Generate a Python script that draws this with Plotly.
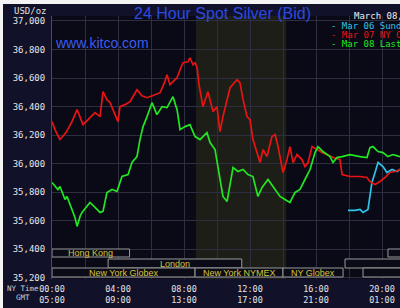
import plotly.graph_objects as go

# ---- data (hours since 00:00 NY time, price USD/oz) ----
red_t = [0.0, 0.18, 0.48, 0.85, 1.21, 1.52, 1.88, 2.18, 2.61, 2.91, 3.09, 3.33, 3.52, 3.82, 4.0,
         4.12, 4.42, 4.73, 5.15, 5.45, 5.76, 6.24, 6.55, 6.79, 6.97, 7.15, 7.58, 7.76, 7.94, 8.24,
         8.36, 8.55, 8.67, 8.79, 8.91, 9.15, 9.45, 9.76, 10.0, 10.18, 10.36, 10.79, 10.97, 11.21,
         11.39, 11.58, 11.82, 12.0, 12.18, 12.42, 12.61, 12.79, 13.03, 13.33, 13.52, 13.7, 14.0,
         14.24, 14.42, 14.61, 14.85, 15.15, 15.33, 15.52, 15.76, 16.06, 16.36, 16.67, 17.03, 17.45,
         17.58, 18.06, 18.67, 19.09, 19.27, 19.58, 19.88, 20.18, 20.48, 20.79, 21.09, 21.4]
red_p = [36294, 36238, 36168, 36217, 36294, 36378, 36273, 36308, 36357, 36329, 36504, 36448, 36427,
         36343, 36294, 36399, 36413, 36434, 36518, 36476, 36462, 36483, 36497, 36560, 36623, 36553,
         36602, 36658, 36707, 36714, 36742, 36693, 36707, 36672, 36553, 36399, 36504, 36364, 36399,
         36224, 36329, 36532, 36553, 36588, 36567, 36448, 36329, 36308, 36168, 36077, 36007, 36098,
         36049, 36189, 36203, 36119, 35937, 36028, 36119, 36007, 36063, 36028, 35979, 36007, 36119,
         36098, 36077, 36063, 36042, 36028, 35923, 35909, 35909, 35902, 35874, 35853, 35874, 35902,
         35937, 35944, 35958, 35965]

green_t = [0.0, 0.36, 0.48, 0.79, 0.91, 1.21, 1.39, 1.52, 1.70, 1.82, 2.12, 2.30, 2.61, 2.91, 3.09,
           3.33, 3.64, 3.94, 4.24, 4.61, 4.85, 5.15, 5.33, 5.52, 5.76, 6.06, 6.36, 6.67, 6.97, 7.33,
           7.58, 7.76, 8.06, 8.36, 8.67, 8.97, 9.39, 9.58, 9.88, 10.06, 10.36, 10.61, 10.79, 10.97,
           11.27, 11.58, 11.88, 12.18, 12.48, 12.73, 13.09, 13.39, 13.82, 14.12, 14.42, 14.73, 15.03,
           15.33, 15.64, 15.94, 16.12, 16.42, 16.85, 17.03, 17.27, 17.58, 18.06, 18.67, 19.09, 19.27,
           19.45, 19.76, 20.06, 20.36, 20.67, 21.09, 21.4]
green_p = [35867, 35818, 35839, 35748, 35769, 35678, 35622, 35559, 35629, 35657, 35699, 35727, 35692,
           35657, 35664, 35797, 35818, 35804, 35909, 35923, 36007, 36049, 36168, 36259, 36329, 36427,
           36343, 36399, 36392, 36469, 36378, 36238, 36259, 36273, 36189, 36168, 36217, 36147, 36098,
           35979, 35769, 35734, 35867, 35972, 35944, 35958, 35923, 35909, 35769, 35832, 35888, 35839,
           35769, 35748, 35727, 35797, 35818, 35888, 35958, 36077, 36119, 36084, 36049, 36007, 36042,
           36049, 36063, 36049, 36042, 36112, 36119, 36084, 36077, 36049, 36063, 36049, 36056]

cyan_t = [17.94, 18.36, 18.67, 18.85, 19.15, 19.27, 19.39, 19.58, 19.76, 20.06, 20.30, 20.61, 20.91, 21.09, 21.4]
cyan_p = [35671, 35671, 35678, 35657, 35678, 35769, 35867, 35937, 36007, 35979, 35937, 35958, 35944, 35958, 35951]

tick_hours = [0, 4, 8, 12, 16, 20]
tick_ny = ["00:00", "04:00", "08:00", "12:00", "16:00", "20:00"]
tick_gmt = ["05:00", "09:00", "13:00", "17:00", "21:00", "01:00"]
price_ticks = [35200, 35400, 35600, 35800, 36000, 36200, 36400, 36600, 36800, 37000]

legend_names = ["Mar 06 Sunday Close", "Mar 07 NY Close", "Mar 08 Last 24 Hours"]
legend_colors = ["#2ec4ea", "#e81414", "#22e622"]

# session bars: (label, start hour, end hour, row)
sessions = [
    ("Hong Kong", 0.0, 4.7, 0),
    ("London", 3.4, 11.5, 1),
    ("New York Globex", 0.0, 8.67, 2),
    ("New York NYMEX", 8.67, 14.0, 2),
    ("NY Globex", 14.0, 17.64, 2),
    ("", 17.76, 24.0, 1),
    ("New York Globex", 18.85, 24.0, 2),
    ("", 20.36, 24.0, 0),
]
nymex_open, nymex_close = 8.72, 14.2

# ---- figure geometry ----
W, H = 400, 308
ML, MR, MT, MB = 52, 0, 16, 29
PW, PH = W - ML - MR, H - MT - MB


def px(xp):
    return (xp - ML) / PW


def py(yp):
    return (H - MB - yp) / PH


fig = go.Figure()
for t, p, c, n in [(cyan_t, cyan_p, legend_colors[0], legend_names[0]),
                   (red_t, red_p, legend_colors[1], legend_names[1]),
                   (green_t, green_p, legend_colors[2], legend_names[2])]:
    fig.add_trace(go.Scatter(x=t, y=p, mode="lines", line=dict(color=c, width=1.7),
                             name=n, showlegend=False))

shapes = []
# white frame strips
shapes.append(dict(type="rect", xref="paper", yref="paper", x0=px(0), x1=px(W), y0=py(4), y1=py(-2),
                   fillcolor="#f4f4f4", line=dict(width=0), layer="above"))
shapes.append(dict(type="rect", xref="paper", yref="paper", x0=px(-2), x1=px(3), y0=py(H + 2), y1=py(-2),
                   fillcolor="#f4f4f4", line=dict(width=0), layer="above"))
# NYMEX shading
shapes.append(dict(type="rect", xref="x", yref="paper", x0=nymex_open, x1=nymex_close, y0=0, y1=1,
                   fillcolor="rgba(90,90,30,0.26)", line=dict(width=0), layer="below"))

row_y = [(py(257), py(249)), (py(268), py(259)), (py(277), py(268))]
annotations = []
for label, s, e, r in sessions:
    y0, y1 = row_y[r]
    shapes.append(dict(type="rect", xref="x", yref="paper", x0=s, x1=e, y0=y0, y1=y1,
                       fillcolor="#0b0b18", line=dict(color="#9a9a9a", width=1), layer="above"))
    if label:
        annotations.append(dict(text=label, xref="x", yref="paper", x=(s + e) / 2, y=(y0 + y1) / 2,
                                showarrow=False, font=dict(family="Liberation Sans", size=9, color="#d8c23a"),
                                xanchor="center", yanchor="middle"))

mono = "DejaVu Sans Mono"
annotations += [
    dict(text="24 Hour Spot Silver (Bid)", xref="paper", yref="paper", x=px(222), y=py(14),
         showarrow=False, font=dict(family="Liberation Sans", size=16, color="#2c4ae0"),
         xanchor="center", yanchor="middle"),
    dict(text="www.kitco.com", xref="paper", yref="paper", x=px(53), y=py(43),
         showarrow=False, font=dict(family="Liberation Sans", size=14, color="#3c5cf0"),
         xanchor="left", yanchor="middle"),
    dict(text="USD/oz", xref="paper", yref="paper", x=px(49), y=py(11),
         showarrow=False, font=dict(family=mono, size=9, color="#e0e0e0"),
         xanchor="right", yanchor="middle"),
    dict(text="March 08, 2011", xref="paper", yref="paper", x=px(352), y=py(16),
         showarrow=False, font=dict(family=mono, size=9, color="#f0f0f0"),
         xanchor="left", yanchor="middle"),
    dict(text="NY Time", xref="paper", yref="paper", x=px(5), y=py(288),
         showarrow=False, font=dict(family=mono, size=7.5, color="#d0d0d0"),
         xanchor="left", yanchor="middle"),
    dict(text="GMT", xref="paper", yref="paper", x=px(14), y=py(297),
         showarrow=False, font=dict(family=mono, size=7.5, color="#d0d0d0"),
         xanchor="left", yanchor="middle"),
]
for i, (n, c) in enumerate(zip(legend_names, legend_colors)):
    annotations.append(dict(text="- " + n, xref="paper", yref="paper", x=px(329), y=py(26 + 9 * i),
                            showarrow=False, font=dict(family=mono, size=9, color=c),
                            xanchor="left", yanchor="middle"))

fig.update_layout(
    width=W, height=H, margin=dict(l=ML, r=MR, t=MT, b=MB, pad=0),
    paper_bgcolor="#11112a", plot_bgcolor="#0a0a16",
    shapes=shapes, annotations=annotations,
    xaxis=dict(range=[0, PW / 16.5], tickmode="array", tickvals=tick_hours,
               ticktext=[a + "<br>" + b for a, b in zip(tick_ny, tick_gmt)],
               showgrid=True, gridcolor="#2e2e40", gridwidth=1, zeroline=False,
               showline=False, ticks="", ticklabelstandoff=3,
               tickfont=dict(family=mono, size=8.5, color="#e6e6e6"),
               minor=dict(dtick=2, tick0=0, showgrid=True, gridcolor="#2e2e40")),
    yaxis=dict(range=[35190, 37035], tickmode="array", tickvals=price_ticks,
               ticktext=[f"{v:,}" for v in price_ticks], showgrid=True, gridcolor="#2e2e40",
               zeroline=False, showline=True, linecolor="#4a4a5a", ticks="",
               ticklabelstandoff=4,
               tickfont=dict(family=mono, size=9, color="#e6e6e6")),
    showlegend=False,
)

fig.write_html("out.html")
